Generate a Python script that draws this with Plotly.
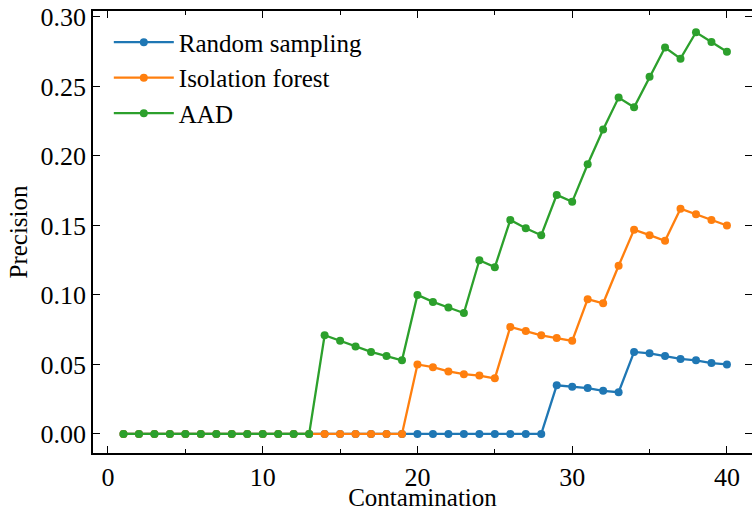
import plotly.graph_objects as go

contamination = list(range(1, 41))

random_sampling = [0.0] * 28 + [
    0.035, 0.034, 0.033, 0.031, 0.030,
    0.059, 0.058, 0.056, 0.054, 0.053, 0.051, 0.050,
]

isolation_forest = [0.0] * 19 + [
    0.050, 0.048, 0.045, 0.043, 0.042, 0.040,
    0.077, 0.074, 0.071, 0.069, 0.067,
    0.097, 0.094, 0.121,
    0.147, 0.143, 0.139,
    0.162, 0.158, 0.154, 0.150,
]

aad = [0.0] * 13 + [
    0.071, 0.067, 0.063, 0.059, 0.056, 0.053,
    0.100, 0.095, 0.091, 0.087,
    0.125, 0.120,
    0.154, 0.148, 0.143,
    0.172, 0.167,
    0.194, 0.219, 0.242, 0.235,
    0.257, 0.278, 0.270,
    0.289, 0.282, 0.275,
]

series = [
    ("Random sampling", random_sampling, "#1f77b4"),
    ("Isolation forest", isolation_forest, "#ff7f0e"),
    ("AAD", aad, "#2ca02c"),
]

FONT = "Liberation Serif"

fig = go.Figure()
for name, values, color in series:
    fig.add_trace(go.Scatter(
        x=contamination, y=values, name=name, mode="lines+markers",
        legendgroup=name,
        line=dict(color=color, width=2.3),
        marker=dict(color=color, size=8),
    ))

axis_common = dict(
    showgrid=False, zeroline=False, showline=True, linecolor="black",
    linewidth=1.5, mirror="allticks", ticks="inside", tickcolor="black",
    tickwidth=1.2, ticklen=7, automargin=False,
    tickfont=dict(family=FONT, size=26, color="black"),
    title_font=dict(family=FONT, size=25, color="black"),
)

fig.update_xaxes(
    **axis_common, range=[-0.969, 41.62], tickvals=[0, 10, 20, 30, 40],
    minor=dict(dtick=5, tick0=0, ticks="inside", ticklen=4, tickcolor="black",
               tickwidth=1.2, showgrid=False),
    title_text="Contamination", title_standoff=4,
)
fig.update_yaxes(
    **axis_common, range=[-0.0137, 0.3043], tickvals=[0, 0.05, 0.10, 0.15, 0.20, 0.25, 0.30],
    tickformat=".2f", title_text="Precision", title_standoff=6,
)

fig.update_layout(
    width=752, height=511,
    margin=dict(l=93, r=0, t=11, b=58),
    paper_bgcolor="white", plot_bgcolor="white",
    font=dict(family=FONT, size=25, color="black"),
    legend=dict(x=0.024, y=0.981, xanchor="left", yanchor="top",
                bgcolor="rgba(0,0,0,0)", itemwidth=60, tracegroupgap=0,
                font=dict(family=FONT, size=25, color="black")),
)

fig.write_html("out.html")
